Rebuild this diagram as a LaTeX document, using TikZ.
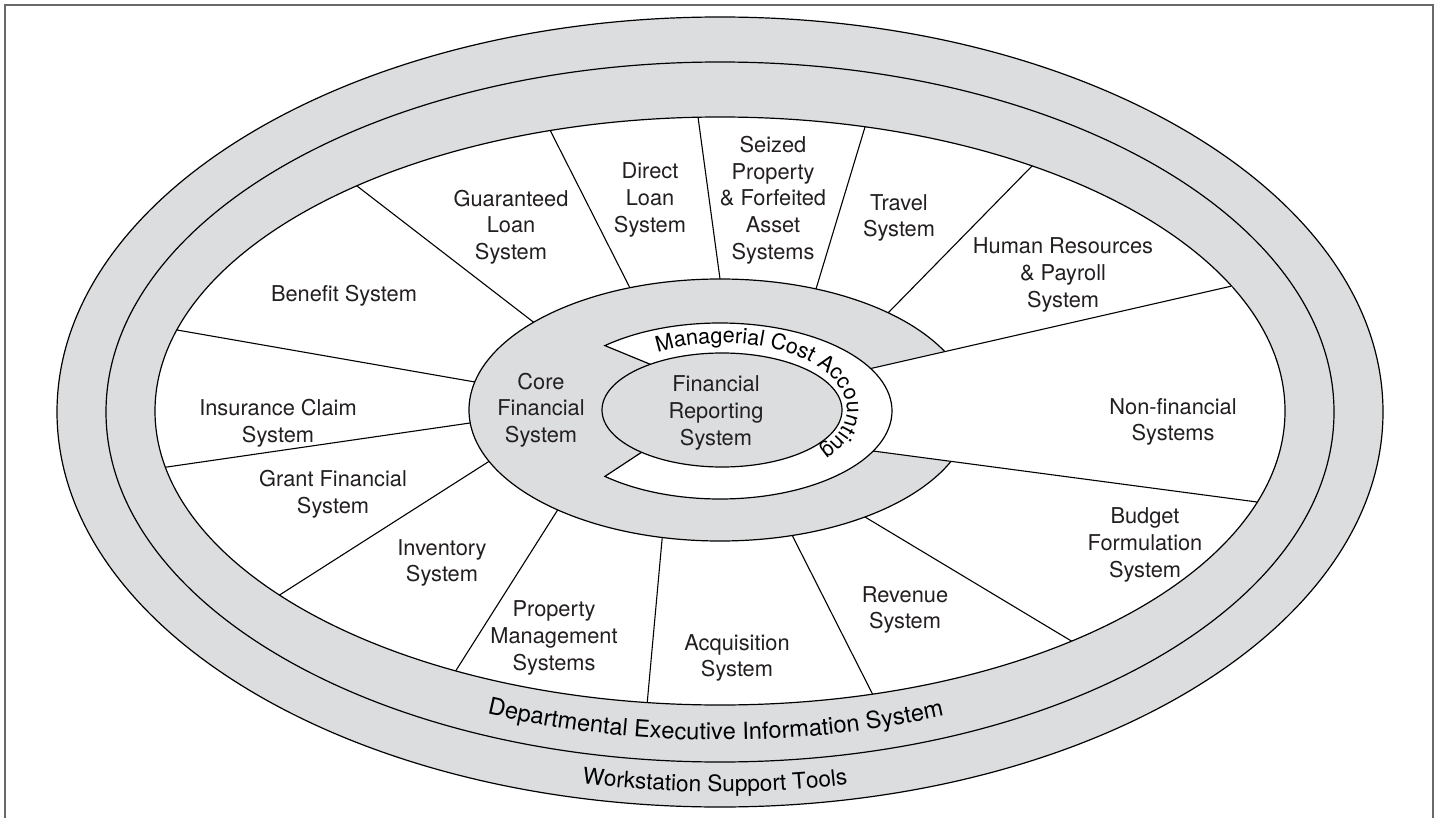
\documentclass[tikz,border=0pt]{standalone}
\usepackage{fontspec}
\setmainfont{TeX Gyre Heros}
\usetikzlibrary{decorations.text,calc}
\definecolor{bandgray}{RGB}{220,221,223}
\definecolor{ink}{RGB}{35,31,32}
\definecolor{framegray}{RGB}{105,105,105}
\begin{document}
\begin{tikzpicture}[x=0.5pt,y=-0.5pt,
  outline/.style={draw=black, line width=0.6pt},
  divider/.style={draw=black, line width=0.55pt},
  lbl/.style={align=center, text=ink, inner sep=0pt, font=\fontsize{10.9}{13.35}\selectfont}]
\useasboundingbox (0,0) rectangle (1439,818);
% frame
\draw[framegray, line width=1pt] (4.7,822) -- (4.7,4.7) -- (1432.5,4.7) -- (1432.5,822);
% bands
\fill[bandgray] (720,412) ellipse[x radius=663, y radius=395];
\draw[outline] (720,412) ellipse[x radius=663, y radius=395];
\draw[outline] (720,412) ellipse[x radius=614, y radius=350];
\fill[white] (720,411) ellipse[x radius=565, y radius=294];
\draw[outline] (720,411) ellipse[x radius=565, y radius=294];
% divider end points
\coordinate (o1) at (357,186);   \coordinate (c1) at (532,321);
\coordinate (o2) at (550,130);   \coordinate (c2) at (630,288);
\coordinate (o3) at (698,117);   \coordinate (c3) at (720,279);
\coordinate (o4) at (865,127);   \coordinate (c4) at (816,289);
\coordinate (o5) at (1032,166);  \coordinate (c5) at (888,313);
\coordinate (o6) at (1232,286);  \coordinate (c6) at (873,368);
\coordinate (o7) at (1257,502);  \coordinate (c7) at (873,451);
\coordinate (o8) at (1073,642);  \coordinate (c8) at (865,517);
\coordinate (o9) at (873,695);   \coordinate (c9) at (792,535);
\coordinate (o10) at (647,705);  \coordinate (c10) at (662,540);
\coordinate (o11) at (455,672);  \coordinate (c11) at (557,511);
\coordinate (o12) at (278,596);  \coordinate (c12) at (488,462);
\coordinate (o13) at (167,467);  \coordinate (c13) at (470,423);
\coordinate (o14) at (177,330);  \coordinate (c14) at (475,382);
\begin{scope}
  \clip (720,411) ellipse[x radius=565, y radius=294];
  \foreach \i in {1,2,3,4,5,8,9,10,11,12,13,14}
    \draw[divider] ($(c\i)!-0.12!(o\i)$) -- ($(c\i)!1.05!(o\i)$);
\end{scope}
% core financial system
\fill[bandgray] (720,410) ellipse[x radius=251, y radius=131];
\draw[outline] (720,410) ellipse[x radius=251, y radius=131];
% non-financial wedge reaching the ring
\fill[white] (c6) -- (o6) -- (o7) -- (c7) -- (800,410) -- cycle;
\begin{scope}
  \clip (720,411) ellipse[x radius=565, y radius=294];
  \foreach \i in {6,7}
    \draw[divider] ($(c\i)!-0.03!(o\i)$) -- ($(c\i)!1.05!(o\i)$);
\end{scope}
% managerial cost accounting ring
\path (720,411) ++(-132:172 and 88) coordinate (tipT);
\path (720,411) ++(132:172 and 88) coordinate (tipB);
\coordinate (inT) at (652,365);
\coordinate (inB) at (645,450);
\fill[white] (tipT) arc[start angle=-132, end angle=132, x radius=172, y radius=88] -- (inB) -- (700,410) -- (inT) -- cycle;
\draw[outline] (inT) -- (tipT) arc[start angle=-132, end angle=132, x radius=172, y radius=88] -- (inB);
% financial reporting system
\fill[bandgray] (722,410) ellipse[x radius=120, y radius=57];
\draw[outline] (722,410) ellipse[x radius=120, y radius=57];
% curved texts
\path[decorate, decoration={text along path, text align=left,
  text={|\fontsize{10.8}{13}\selectfont|Managerial Cost Accounting}}]
  (722,409) ++(-121:125 and 66) arc[start angle=-121, end angle=75, x radius=125, y radius=66];
\path[decorate, decoration={text along path, text align=center,
  text={|\fontsize{11.8}{14}\selectfont|Departmental Executive Information System}}]
  (720,411) ++(125.5:595 and 329) arc[start angle=125.5, end angle=55.5, x radius=595, y radius=329];
\path[decorate, decoration={text along path, text align=center,
  text={|\fontsize{11.3}{13}\selectfont|Workstation Support Tools}}]
  (720,411) ++(120.5:648 and 381) arc[start angle=120.5, end angle=60.5, x radius=648, y radius=381];
% labels
\node[lbl] (guar) at (511,227) {Guaranteed\\Loan\\System};
\node[lbl] (direct) at (650,200) {Direct\\Loan\\System};
\node[lbl] (seized) at (773,200) {Seized\\Property\\\& Forfeited\\Asset\\Systems};
\node[lbl] (travel) at (899,218) {Travel\\System};
\node[lbl] (hr) at (1063,275) {Human Resources\\\& Payroll\\System};
\node[lbl] (nonfin) at (1173,422) {Non-financial\\Systems};
\node[lbl] (budget) at (1145,545) {Budget\\Formulation\\System};
\node[lbl] (revenue) at (905,610) {Revenue\\System};
\node[lbl] (acq) at (737,658) {Acquisition\\System};
\node[lbl] (prop) at (554,638) {Property\\Management\\Systems};
\node[lbl] (inv) at (442,563) {Inventory\\System};
\node[lbl] (grant) at (333,494) {Grant Financial\\System};
\node[lbl] (ins) at (278,423) {Insurance Claim\\System};
\node[lbl] (benefit) at (344,296) {Benefit System};
\node[lbl] (core) at (541,410) {Core\\Financial\\System};
\node[lbl] (frs) at (716,413) {Financial\\Reporting\\System};
\end{tikzpicture}
\end{document}
